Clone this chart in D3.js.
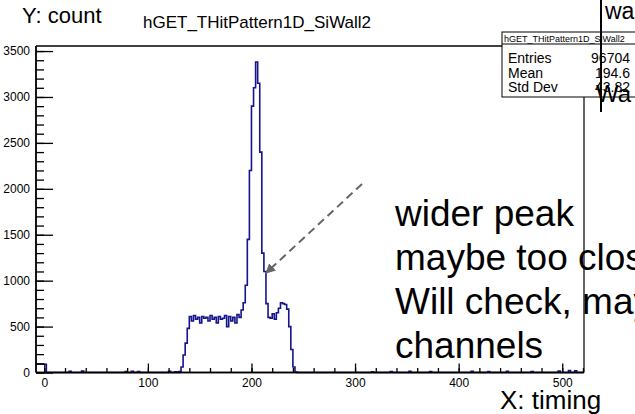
<!DOCTYPE html>
<html>
  <head>
    <meta charset="utf-8" />
    <script src="https://cdn.jsdelivr.net/npm/d3@7"></script>
    <style>
      body { margin: 0; background: #fff; }
      svg { font-family: "Liberation Sans", Arial, sans-serif; }
    </style>
  </head>
  <body>
    <div id="chart"></div>
    <script>
      // histogram, bin width 2 (timing units)
      var binWidth = 2;
      var bodyStart = 130;
      var bodyCounts = [
        10, 60, 190, 320, 480, 610, 560, 620, 580, 600,
        540, 610, 590, 600, 560, 620, 580, 600, 540, 610,
        580, 590, 620, 500, 610, 560, 600, 540, 630, 600,
        680, 760, 950, 1450, 2200, 2900, 3100, 3380, 3150, 2400,
        1300, 1100, 750, 600, 590, 640, 580, 650, 700, 760,
        750, 740, 690, 500, 250, 60, 5
      ];
      var noiseBins = [-8, -6, -4, -2, 0, 24, 36, 78, 84, 90, 120, 126, 316, 334, 352, 372, 412, 428, 446, 470, 496, 506, 512];
      var noiseCounts = [90, 90, 90, 90, 90, 12, 15, 10, 14, 10, 12, 8, 8, 10, 12, 9, 14, 10, 12, 9, 15, 20, 18];

      var yTicks = [0, 500, 1000, 1500, 2000, 2500, 3000, 3500];
      var xTicks = [0, 100, 200, 300, 400, 500];

      var statsNames = ["Entries", "Mean", "Std Dev"];
      var statsValues = ["96704", "194.6", "43.82"];

      var noteLines = ["wider peak", "maybe too close", "Will check, maybe", "channels"];

      var W = 635, H = 414;
      var pLeft = 36, pRight = 584, pTop = 46, pBottom = 372.5;

      var svg = d3.select("#chart").append("svg")
        .attr("width", W).attr("height", H);

      var x = d3.scaleLinear().domain([-8, 521]).range([pLeft, pRight]);
      var y = d3.scaleLinear().domain([0, 3555]).range([pBottom, pTop]);

      // build bins
      var bins = [];
      for (var b = -8; b < 520; b += binWidth) bins.push({ x0: b, n: 0 });
      bodyCounts.forEach(function (c, i) {
        var k = (bodyStart + i * binWidth + 8) / binWidth;
        bins[k].n = c;
      });
      noiseBins.forEach(function (v, i) {
        bins[(v + 8) / binWidth].n = noiseCounts[i];
      });

      // step path
      var pts = [];
      bins.forEach(function (d) {
        pts.push([x(d.x0), y(d.n)]);
        pts.push([x(d.x0 + binWidth), y(d.n)]);
      });
      svg.append("path")
        .attr("d", d3.line()(pts))
        .attr("fill", "none")
        .attr("stroke", "#14148c")
        .attr("stroke-width", 1.6);

      // frame
      svg.append("line").attr("x1", pLeft).attr("x2", 502).attr("y1", pTop).attr("y2", pTop)
        .attr("stroke", "#000").attr("stroke-width", 1.6);
      svg.append("line").attr("x1", pRight).attr("x2", pRight).attr("y1", 97).attr("y2", pBottom)
        .attr("stroke", "#000").attr("stroke-width", 1.2);

      // y axis
      var gy = svg.append("g").attr("transform", "translate(" + pLeft + ",0)");
      gy.append("g").call(d3.axisLeft(y).tickValues(d3.range(0, 3501, 100)).tickSize(-8).tickFormat("").tickSizeOuter(0));
      gy.append("g").call(d3.axisLeft(y).tickValues(yTicks).tickSize(-17).tickPadding(6)
        .tickFormat(d3.format("d")).tickSizeOuter(0));
      gy.selectAll("text").attr("font-size", 12).attr("font-family", "Liberation Sans, Arial").attr("fill", "#000");
      gy.selectAll(".tick line").attr("stroke-width", 1.3);
      gy.selectAll("path.domain").attr("d", "M0," + pTop + "V" + pBottom).attr("stroke-width", 1.4);

      // x axis
      var gx = svg.append("g").attr("transform", "translate(0," + pBottom + ")");
      gx.append("g").call(d3.axisBottom(x).tickValues(d3.range(0, 521, 20)).tickSize(-4.5).tickFormat("").tickSizeOuter(0));
      gx.append("g").call(d3.axisBottom(x).tickValues(xTicks).tickSize(-9).tickPadding(6)
        .tickFormat(d3.format("d")).tickSizeOuter(0));
      gx.selectAll("text").attr("font-size", 12).attr("font-family", "Liberation Sans, Arial").attr("fill", "#000");
      gx.selectAll(".tick line").attr("stroke-width", 1.3);
      gx.selectAll("path.domain").attr("d", "M" + pLeft + ",0H" + pRight).attr("stroke-width", 1.4);

      // titles
      svg.append("text").attr("x", 143).attr("y", 28).attr("font-size", 17)
        .text("hGET_THitPattern1D_SiWall2");
      svg.append("text").attr("x", 22).attr("y", 23).attr("font-size", 22)
        .text("Y: count");
      svg.append("text").attr("x", 500).attr("y", 409).attr("font-size", 26)
        .text("X: timing");

      // stats box
      var st = svg.append("g");
      st.append("rect").attr("x", 502).attr("y", 32).attr("width", 150).attr("height", 65)
        .attr("fill", "#fff").attr("stroke", "#000").attr("stroke-width", 1);
      st.append("line").attr("x1", 502).attr("x2", 640).attr("y1", 44).attr("y2", 44)
        .attr("stroke", "#000").attr("stroke-width", 1);
      st.append("text").attr("x", 504).attr("y", 41.5).attr("font-size", 9)
        .text("hGET_THitPattern1D_SiWall2");
      statsNames.forEach(function (s, i) {
        st.append("text").attr("x", 508).attr("y", 63 + i * 14.5).attr("font-size", 14).text(s);
        st.append("text").attr("x", 630).attr("y", 63 + i * 14.5).attr("font-size", 14)
          .attr("text-anchor", "end").text(statsValues[i]);
      });

      // overlapping slide text box
      svg.append("line").attr("x1", 601).attr("x2", 601).attr("y1", 0).attr("y2", 112)
        .attr("stroke", "#000").attr("stroke-width", 2);
      svg.append("text").attr("x", 605).attr("y", 19).attr("font-size", 23).text("wa");
      svg.append("text").attr("x", 596).attr("y", 102).attr("font-size", 24).text("Wa");

      // arrow
      svg.append("defs").append("marker")
        .attr("id", "head").attr("viewBox", "0 0 10 10").attr("refX", 9).attr("refY", 5)
        .attr("markerWidth", 5).attr("markerHeight", 5).attr("orient", "auto")
        .append("path").attr("d", "M0,0L10,5L0,10z").attr("fill", "#666");
      svg.append("line").attr("x1", 362).attr("y1", 184).attr("x2", 266).attr("y2", 273)
        .attr("stroke", "#666").attr("stroke-width", 2).attr("stroke-dasharray", "8,5")
        .attr("marker-end", "url(#head)");

      // note
      var note = svg.append("text").attr("font-size", 37).attr("fill", "#000");
      noteLines.forEach(function (t, i) {
        note.append("tspan").attr("x", 395).attr("y", 226 + i * 44).text(t);
      });
    </script>
  </body>
</html>
